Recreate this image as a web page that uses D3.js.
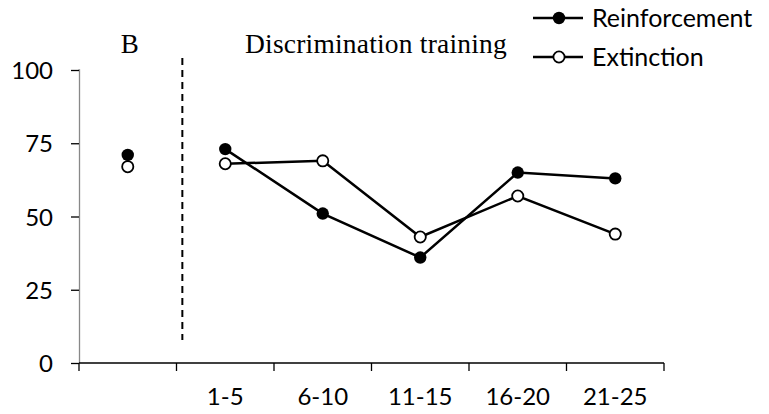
<!DOCTYPE html>
<html><head><meta charset="utf-8">
<script src="https://cdn.jsdelivr.net/npm/d3@7/dist/d3.min.js"></script>
<style>
html,body{margin:0;padding:0;background:#fff;}
svg{display:block;}
</style></head>
<body><svg id="c" width="769" height="414"></svg>
<script>
const categories = ["B", "1-5", "6-10", "11-15", "16-20", "21-25"];
const tickLabels = ["", "1-5", "6-10", "11-15", "16-20", "21-25"];
const reinforcement = [71, 73, 51, 36, 65, 63];
const extinction = [67, 68, 69, 43, 57, 44];
const yTicks = [0, 25, 50, 75, 100];
const seriesNames = ["Reinforcement", "Extinction"];
const phaseLabels = ["B", "Discrimination training"];

const svg = d3.select("#c");
const x = d3.scaleBand().domain(categories).range([79, 664]).padding(0);
const y = d3.scaleLinear().domain([0, 100]).range([363, 70]);
const cx = c => x(c) + x.bandwidth() / 2;

const sans = "Lato, 'Open Sans', sans-serif";
const serif = "'Liberation Serif', 'DejaVu Serif', serif";

// Y axis
const yAxis = svg.append("g").attr("transform", "translate(79,0)")
  .call(d3.axisLeft(y).tickValues(yTicks).tickSize(8).tickPadding(18));
yAxis.select(".domain").attr("d", `M-0.5,${y(100)}H0.5V${y(0)}`).attr("stroke", "#888").attr("stroke-width", 1.3).attr("fill","none");
yAxis.selectAll(".tick line").attr("stroke", "#000").attr("stroke-width", 1.3);
yAxis.selectAll(".tick text").attr("font-family", sans).attr("font-size", 24).attr("fill", "#000").attr("dy", "0.36em");

// X axis
const xg = svg.append("g");
xg.append("line").attr("x1", x.range()[0]).attr("x2", x.range()[1]).attr("y1", y(0)).attr("y2", y(0))
  .attr("stroke", "#000").attr("stroke-width", 1.3);
const bounds = categories.map(c => x(c)).concat([x.range()[1]]);
xg.selectAll("line.tk").data(bounds).join("line").attr("class", "tk")
  .attr("x1", d => d).attr("x2", d => d).attr("y1", y(0)).attr("y2", y(0) + 8)
  .attr("stroke", "#000").attr("stroke-width", 1.3);
xg.selectAll("text").data(categories).join("text")
  .attr("x", c => cx(c)).attr("y", 405).attr("text-anchor", "middle")
  .attr("font-family", sans).attr("font-size", 24).attr("fill", "#000")
  .text((c, i) => tickLabels[i]);

// Dashed separator
const sepX = x(categories[1]) + x.bandwidth() * 0.06;
svg.append("line").attr("x1", sepX).attr("x2", sepX).attr("y1", 58).attr("y2", 340)
  .attr("stroke", "#000").attr("stroke-width", 2).attr("stroke-dasharray", "7,5");

// Phase labels
svg.append("text").attr("x", cx(categories[0]) + 2).attr("y", 53).attr("text-anchor", "middle")
  .attr("font-family", serif).attr("font-size", 27).attr("fill", "#000").text(phaseLabels[0]);
svg.append("text").attr("x", 245).attr("y", 53).attr("letter-spacing", 0.2)
  .attr("font-family", serif).attr("font-size", 27.5).attr("fill", "#000").text(phaseLabels[1]);

// Lines (discrimination phase only)
const line = d3.line().x(d => cx(d.c)).y(d => y(d.v));
const mk = vals => categories.map((c, i) => ({c, v: vals[i]}));
const rData = mk(reinforcement), eData = mk(extinction);
svg.append("path").datum(rData.slice(1)).attr("d", line).attr("fill", "none").attr("stroke", "#000").attr("stroke-width", 2.5);
svg.append("path").datum(eData.slice(1)).attr("d", line).attr("fill", "none").attr("stroke", "#000").attr("stroke-width", 2.5);

svg.selectAll("circle.r").data(rData).join("circle").attr("class", "r")
  .attr("cx", d => cx(d.c)).attr("cy", d => y(d.v)).attr("r", 6.2).attr("fill", "#000");
svg.selectAll("circle.e").data(eData).join("circle").attr("class", "e")
  .attr("cx", d => cx(d.c)).attr("cy", d => y(d.v)).attr("r", 5.6).attr("fill", "#fff").attr("stroke", "#000").attr("stroke-width", 1.8);

// Legend
const leg = svg.append("g");
const rows = [18, 57];
seriesNames.forEach((name, i) => {
  const g = leg.append("g").attr("transform", `translate(0,${rows[i]})`);
  g.append("line").attr("x1", 533).attr("x2", 583).attr("y1", 0).attr("y2", 0).attr("stroke", "#000").attr("stroke-width", 2.5);
  if (i === 0) g.append("circle").attr("cx", 559).attr("cy", 0).attr("r", 6.2).attr("fill", "#000");
  else g.append("circle").attr("cx", 559).attr("cy", 0).attr("r", 5.6).attr("fill", "#fff").attr("stroke", "#000").attr("stroke-width", 1.8);
  g.append("text").attr("x", 592).attr("y", 0).attr("dy", "0.36em")
    .attr("font-family", sans).attr("font-size", 25).attr("fill", "#000").text(name);
});
</script></body></html>
